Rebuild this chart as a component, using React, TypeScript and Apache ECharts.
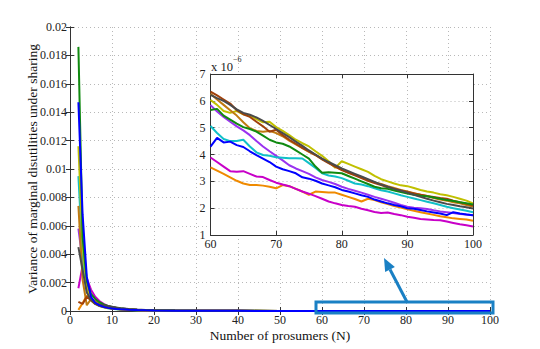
import React, { useEffect, useRef } from "react";
import * as echarts from "echarts";

const FONT = "Liberation Serif";

// Main chart: early N (values in units of 1e-3)
const mainN = [2, 3, 4, 5, 6, 7, 8, 9, 10, 11, 12, 14, 16, 18, 20, 25, 30, 40, 50];
// Inset: N from 60 to 100 (values in units of 1e-6)
const insetN = [60, 61, 62, 63, 64, 65, 66, 67, 68, 69, 70, 71, 72, 73, 74, 75, 76, 77, 78, 79, 80,
  81, 82, 83, 84, 85, 86, 87, 88, 89, 90, 91, 92, 93, 94, 95, 96, 97, 98, 99, 100];

const xTicksMain = [0, 10, 20, 30, 40, 50, 60, 70, 80, 90, 100];
const yTicksMain = [0, 0.002, 0.004, 0.006, 0.008, 0.01, 0.012, 0.014, 0.016, 0.018, 0.02];
const xTicksInset = [60, 70, 80, 90, 100];
const yTicksInset = [1, 2, 3, 4, 5, 6, 7];

const orangeEarly = [0.08, 0.55, 1.1, 0.75, 0.52, 0.38, 0.28, 0.21, 0.17, 0.14, 0.11, 0.08, 0.06, 0.046, 0.036, 0.022, 0.015, 0.0075, 0.0046];
const orangeInset = [3.52, 3.4, 3.28, 3.15, 3.02, 2.92, 2.86, 2.86, 2.84, 2.8, 2.74, 2.86, 2.82, 2.72, 2.62, 2.5, 2.62, 2.6, 2.58, 2.58, 2.5,
  2.42, 2.34, 2.25, 2.35, 2.3, 2.22, 2.15, 2.08, 2.02, 1.96, 1.9, 1.85, 1.8, 1.75, 1.7, 1.66, 1.62, 1.6, 1.58, 1.53];

const magentaEarly = [1.6, 3.2, 2.3, 1.5, 1.0, 0.7, 0.5, 0.36, 0.27, 0.21, 0.17, 0.12, 0.088, 0.066, 0.05, 0.03, 0.02, 0.0095, 0.0052];
const magentaInset = [3.89, 3.72, 3.55, 3.38, 3.36, 3.38, 3.28, 3.18, 3.16, 3.05, 2.95, 2.88, 2.82, 2.72, 2.62, 2.54, 2.45, 2.35, 2.25, 2.18, 2.12,
  2.08, 2.05, 1.98, 1.92, 1.86, 1.82, 1.84, 1.78, 1.74, 1.68, 1.64, 1.6, 1.58, 1.56, 1.55, 1.5, 1.45, 1.4, 1.36, 1.32];

const violetEarly = [5.8, 3.5, 1.7, 0.9, 0.6, 0.42, 0.31, 0.24, 0.19, 0.15, 0.12, 0.088, 0.066, 0.051, 0.04, 0.025, 0.017, 0.0092, 0.0061];
const violetInset = [5.84, 5.6, 5.4, 5.22, 5.05, 4.9, 4.72, 4.5, 4.3, 4.12, 3.95, 3.78, 3.6, 3.48, 3.38, 3.28, 3.15, 3.05, 2.98, 2.9, 2.8,
  2.72, 2.65, 2.58, 2.5, 2.42, 2.35, 2.28, 2.2, 2.12, 2.05, 2.02, 2.0, 1.97, 1.92, 1.88, 1.85, 1.82, 1.78, 1.76, 1.74];

const cyanEarly = [9.5, 3.8, 1.4, 0.75, 0.5, 0.35, 0.26, 0.2, 0.16, 0.13, 0.105, 0.078, 0.06, 0.047, 0.038, 0.024, 0.016, 0.0088, 0.0056];
const cyanInset = [5.06, 4.8, 4.58, 4.5, 4.5, 4.55, 4.3, 4.08, 3.98, 3.95, 3.9, 3.88, 3.86, 3.86, 3.85, 3.68, 3.5, 3.3, 3.22, 3.18, 3.12,
  3.02, 2.92, 2.88, 2.82, 2.74, 2.67, 2.62, 2.55, 2.48, 2.42, 2.36, 2.3, 2.24, 2.18, 2.12, 2.05, 2.0, 1.95, 1.9, 1.85];

const yellowEarly = [11.6, 4.6, 1.6, 0.85, 0.55, 0.38, 0.28, 0.21, 0.17, 0.14, 0.11, 0.082, 0.063, 0.05, 0.04, 0.026, 0.018, 0.0098, 0.0062];
const yellowInset = [6.03, 5.85, 5.62, 5.55, 5.62, 5.5, 5.45, 5.32, 5.2, 5.22, 5.02, 4.88, 4.72, 4.55, 4.42, 4.3, 4.12, 3.95, 3.75, 3.5, 3.75,
  3.65, 3.55, 3.45, 3.35, 3.2, 3.08, 3.0, 2.92, 2.85, 2.82, 2.75, 2.68, 2.62, 2.58, 2.52, 2.48, 2.42, 2.35, 2.28, 2.18];

const ochreEarly = [7.4, 2.2, 0.4, 0.85, 0.7, 0.5, 0.36, 0.27, 0.21, 0.17, 0.14, 0.1, 0.075, 0.058, 0.046, 0.029, 0.02, 0.0105, 0.0065];
const ochreInset = [6.26, 6.05, 5.85, 5.65, 5.45, 5.2, 4.98, 4.88, 4.85, 4.88, 4.8, 4.68, 4.52, 4.38, 4.24, 4.1, 3.98, 3.84, 3.7, 3.55, 3.44,
  3.34, 3.24, 3.15, 3.05, 2.96, 2.9, 2.82, 2.75, 2.68, 2.62, 2.56, 2.5, 2.45, 2.38, 2.32, 2.28, 2.22, 2.18, 2.12, 2.06];

const brownEarly = [0.65, 0.5, 1.0, 0.75, 0.5, 0.36, 0.28, 0.22, 0.18, 0.15, 0.12, 0.09, 0.07, 0.055, 0.045, 0.029, 0.02, 0.0106, 0.0066];
const brownInset = [6.34, 6.2, 6.05, 5.9, 5.65, 5.5, 5.4, 5.22, 5.05, 4.85, 4.92, 4.72, 4.55, 4.4, 4.25, 4.12, 3.98, 3.82, 3.68, 3.55, 3.42,
  3.32, 3.22, 3.12, 3.02, 2.94, 2.86, 2.78, 2.72, 2.66, 2.6, 2.55, 2.5, 2.45, 2.42, 2.38, 2.35, 2.28, 2.22, 2.16, 2.1];

const greenEarly = [18.6, 5.2, 2.1, 1.2, 0.85, 0.62, 0.46, 0.36, 0.29, 0.23, 0.19, 0.13, 0.095, 0.072, 0.056, 0.034, 0.023, 0.012, 0.0078];
const greenInset = [5.66, 5.7, 5.45, 5.3, 5.15, 5.02, 4.95, 4.85, 4.7, 4.55, 4.45, 4.4, 4.3, 4.15, 4.0, 3.85, 3.55, 3.32, 3.34, 3.32, 3.3,
  3.2, 3.1, 3.0, 2.9, 2.8, 2.74, 2.72, 2.66, 2.6, 2.55, 2.5, 2.46, 2.44, 2.4, 2.35, 2.3, 2.27, 2.22, 2.18, 2.14];

const grayEarly = [4.5, 2.9, 1.3, 0.8, 0.55, 0.45, 0.4, 0.35, 0.3, 0.25, 0.2, 0.14, 0.1, 0.078, 0.06, 0.036, 0.024, 0.0125, 0.0078];
const grayInset = [6.22, 6.1, 6.0, 5.85, 5.68, 5.55, 5.48, 5.38, 5.25, 5.1, 4.95, 4.8, 4.65, 4.48, 4.32, 4.15, 4.0, 3.85, 3.72, 3.6, 3.48,
  3.38, 3.28, 3.18, 3.08, 2.98, 2.88, 2.8, 2.72, 2.65, 2.58, 2.5, 2.42, 2.35, 2.28, 2.22, 2.16, 2.12, 2.07, 2.03, 1.99];

const blueEarly = [14.7, 6.8, 2.4, 1.0, 0.58, 0.4, 0.29, 0.22, 0.17, 0.14, 0.115, 0.085, 0.065, 0.05, 0.04, 0.025, 0.017, 0.009, 0.0058];
const blueInset = [4.29, 4.62, 4.45, 4.48, 4.35, 4.28, 4.12, 3.98, 3.85, 3.72, 3.55, 3.45, 3.38, 3.3, 3.15, 3.1, 3.02, 2.92, 2.85, 2.78, 2.68,
  2.62, 2.55, 2.48, 2.42, 2.32, 2.25, 2.18, 2.12, 2.07, 2.0, 1.98, 1.93, 1.88, 1.84, 1.8, 1.74, 1.85, 1.8, 1.76, 1.74];

const seriesDefs = [
  { name: "s1", color: "#ef8a00", early: orangeEarly, inset: orangeInset },
  { name: "s2", color: "#c800c8", early: magentaEarly, inset: magentaInset },
  { name: "s3", color: "#9a32f0", early: violetEarly, inset: violetInset },
  { name: "s4", color: "#10c0c8", early: cyanEarly, inset: cyanInset },
  { name: "s5", color: "#c0c000", early: yellowEarly, inset: yellowInset },
  { name: "s6", color: "#c07a10", early: ochreEarly, inset: ochreInset },
  { name: "s7", color: "#a0400a", early: brownEarly, inset: brownInset },
  { name: "s8", color: "#108a10", early: greenEarly, inset: greenInset },
  { name: "s9", color: "#4a4a4a", early: grayEarly, inset: grayInset },
  { name: "s10", color: "#0000ff", early: blueEarly, inset: blueInset },
];

const AXIS_COLOR = "#333";
const GRID_LINE = { show: true, lineStyle: { color: "#b8b8b8", type: [1, 3] as any, width: 1 } };

export default function App() {
  const ref = useRef<HTMLDivElement>(null);
  useEffect(() => {
    if (!ref.current) return;
    const chart = echarts.init(ref.current, undefined, { renderer: "svg" });

    const mainSeries = seriesDefs.map((s) => ({
      name: s.name,
      type: "line",
      xAxisIndex: 0,
      yAxisIndex: 0,
      showSymbol: false,
      symbol: "none",
      z: 2,
      lineStyle: { color: s.color, width: 2 },
      itemStyle: { color: s.color },
      data: mainN.map((n, i) => [n, s.early[i] * 1e-3]).concat(insetN.map((n, i) => [n, s.inset[i] * 1e-6])),
    }));
    const insetSeries = seriesDefs.map((s) => ({
      name: s.name + "_inset",
      type: "line",
      xAxisIndex: 2,
      yAxisIndex: 2,
      showSymbol: false,
      symbol: "none",
      z: 6,
      lineStyle: { color: s.color, width: 2 },
      itemStyle: { color: s.color },
      data: insetN.map((n, i) => [n, s.inset[i]]),
    }));

    const tickLabel = { fontFamily: FONT, fontSize: 12, color: "#222" };
    const hiddenAxisBase = {
      axisLine: { show: true, lineStyle: { color: AXIS_COLOR, width: 1 } },
      axisTick: { show: true, inside: true, length: 4, lineStyle: { color: AXIS_COLOR } },
      axisLabel: { show: false },
      splitLine: { show: false },
    };

    const arrowTip = [384, 258];
    const arrowTail = [407, 302];
    const dx = arrowTip[0] - arrowTail[0];
    const dy = arrowTip[1] - arrowTail[1];
    const len = Math.sqrt(dx * dx + dy * dy);
    const ux = dx / len, uy = dy / len;
    const headLen = 13, headHalf = 5.5;
    const bx = arrowTip[0] - ux * headLen, by = arrowTip[1] - uy * headLen;
    const px = -uy * headHalf, py = ux * headHalf;

    chart.setOption({
      animation: false,
      backgroundColor: "#fff",
      grid: [
        { left: 70, right: 50, top: 27, bottom: 38, containLabel: false },
        { left: 210.5, right: 67, top: 74, bottom: 114, containLabel: false, show: true, backgroundColor: "#fff", borderWidth: 0, z: 3 },
      ],
      xAxis: [
        {
          type: "value", gridIndex: 0, min: 0, max: 100, interval: 10,
          axisLine: { show: true, onZero: false, lineStyle: { color: AXIS_COLOR, width: 1 } },
          axisTick: { show: true, inside: true, length: 4, lineStyle: { color: AXIS_COLOR } },
          axisLabel: { ...tickLabel, margin: 3, formatter: (v: number) => (xTicksMain.includes(v) ? String(v) : "") },
          splitLine: GRID_LINE,
          name: "Number of prosumers (N)", nameLocation: "middle", nameGap: 17, nameMoveOverlap: false,
          nameTextStyle: { fontFamily: FONT, fontSize: 13.5, color: "#111" },
        },
        { type: "value", gridIndex: 0, position: "top", min: 0, max: 100, interval: 10, ...hiddenAxisBase },
        {
          type: "value", gridIndex: 1, min: 60, max: 100, interval: 10, z: 5,
          axisLine: { show: true, onZero: false, lineStyle: { color: AXIS_COLOR, width: 1 } },
          axisTick: { show: true, inside: true, length: 4, lineStyle: { color: AXIS_COLOR } },
          axisLabel: { ...tickLabel, margin: 3, formatter: (v: number) => (xTicksInset.includes(v) ? String(v) : "") },
          splitLine: GRID_LINE,
        },
        { type: "value", gridIndex: 1, position: "top", min: 60, max: 100, interval: 10, z: 5, ...hiddenAxisBase },
      ],
      yAxis: [
        {
          type: "value", gridIndex: 0, min: 0, max: 0.02, interval: 0.002,
          axisLine: { show: true, onZero: false, lineStyle: { color: AXIS_COLOR, width: 1 } },
          axisTick: { show: true, inside: true, length: 4, lineStyle: { color: AXIS_COLOR } },
          axisLabel: {
            ...tickLabel, margin: 3,
            formatter: (v: number) => {
              const t = yTicksMain.find((x) => Math.abs(x - v) < 1e-9);
              return t === undefined ? "" : String(t);
            },
          },
          splitLine: GRID_LINE,
          name: "Variance of marginal disutilities under sharing", nameLocation: "middle", nameGap: 31, nameMoveOverlap: false,
          nameTextStyle: { fontFamily: FONT, fontSize: 13.5, color: "#111" },
        },
        { type: "value", gridIndex: 0, position: "right", min: 0, max: 0.02, interval: 0.002, ...hiddenAxisBase },
        {
          type: "value", gridIndex: 1, min: 1, max: 7, interval: 1, z: 5,
          axisLine: { show: true, onZero: false, lineStyle: { color: AXIS_COLOR, width: 1 } },
          axisTick: { show: true, inside: true, length: 4, lineStyle: { color: AXIS_COLOR } },
          axisLabel: { ...tickLabel, margin: 5, formatter: (v: number) => (yTicksInset.includes(v) ? String(v) : "") },
          splitLine: GRID_LINE,
        },
        { type: "value", gridIndex: 1, position: "right", min: 1, max: 7, interval: 1, z: 5, ...hiddenAxisBase },
      ],
      series: [...mainSeries, ...insetSeries],
      graphic: [
        {
          type: "text", left: 211, top: 60, z: 10,
          style: { text: "x 10", fontFamily: FONT, fontSize: 12.5, fill: "#222" },
        },
        {
          type: "text", left: 233, top: 55, z: 10,
          style: { text: "\u22126", fontFamily: FONT, fontSize: 8, fill: "#222" },
        },
        {
          type: "rect", z: 10,
          shape: { x: 316, y: 302, width: 177, height: 11 },
          style: { fill: "none", stroke: "#1a80c4", lineWidth: 3 },
        },
        {
          type: "line", z: 10,
          shape: { x1: arrowTail[0], y1: arrowTail[1], x2: bx, y2: by },
          style: { stroke: "#1a80c4", lineWidth: 3 },
        },
        {
          type: "polygon", z: 10,
          shape: { points: [[arrowTip[0], arrowTip[1]], [bx + px, by + py], [bx - px, by - py]] },
          style: { fill: "#1a80c4" },
        },
      ],
    });
    return () => chart.dispose();
  }, []);
  return <div ref={ref} style={{ width: 540, height: 349, position: "absolute", left: 0, top: 0 }} />;
}
